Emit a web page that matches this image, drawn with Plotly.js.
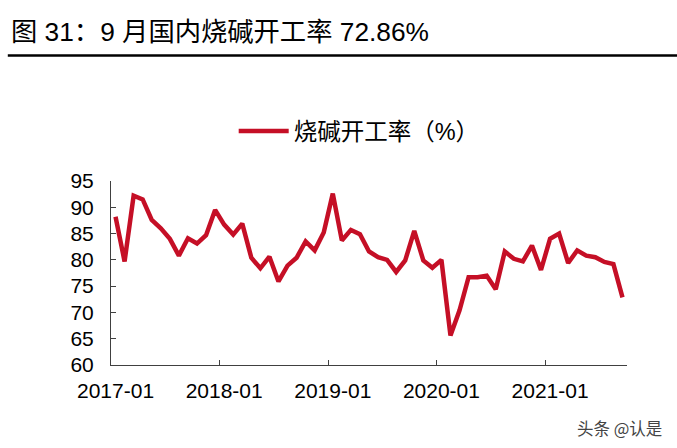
<!DOCTYPE html>
<html>
<head>
<meta charset="utf-8">
<script src="https://cdn.plot.ly/plotly-3.0.1.min.js"></script>
<style>html,body{margin:0;padding:0;background:#fff;}#chart{width:677px;height:448px;}</style>
</head>
<body>
<div id="chart"></div>
<script>
// months 2017-01 .. 2021-09
const months = [];
for (let y = 2017; y <= 2021; y++) {
  for (let m = 1; m <= 12; m++) {
    if (y === 2021 && m > 9) break;
    months.push(y + '-' + (m < 10 ? '0' + m : '' + m));
  }
}
const rate = [
  88.2, 79.7, 92.2, 91.5, 87.6, 86.0, 84.0, 80.8, 84.1, 83.1, 84.7, 89.5,
  86.7, 84.8, 86.9, 80.4, 78.4, 80.6, 75.9, 78.9, 80.4, 83.5, 81.8, 85.2,
  92.6, 83.7, 85.7, 84.9, 81.6, 80.5, 80.0, 77.7, 79.9, 85.5, 79.9, 78.5,
  80.0, 65.6, 70.4, 76.7, 76.7, 77.0, 74.4, 81.6, 80.2, 79.7, 82.7, 78.1,
  84.0, 85.0, 79.4, 81.8, 80.8, 80.5, 79.6, 79.2, 72.86
];
const tickLabels = ['2017-01', '2018-01', '2019-01', '2020-01', '2021-01'];
const seriesName = '烧碱开工率（%）';
const titleText = '图 31：9 月国内烧碱开工率 72.86%';
const watermark = '头条 @认是';

const idx = months.map((_, i) => i);
const labelPos = tickLabels.map(t => months.indexOf(t));
const boundaryPos = labelPos.map(p => p - 0.5);

const fontFam = 'Liberation Sans, Arial, Noto Sans CJK SC, sans-serif';

const traces = [
  {
    x: idx, y: rate, type: 'scatter', mode: 'lines', name: seriesName,
    line: {color: '#C50F26', width: 4.5},
    xaxis: 'x', yaxis: 'y'
  },
  {
    x: [boundaryPos[0]], y: [null], type: 'scatter', mode: 'lines',
    showlegend: false, hoverinfo: 'skip', xaxis: 'x2', yaxis: 'y'
  }
];

const layout = {
  width: 677, height: 448,
  margin: {l: 110.5, r: 50, t: 181, b: 83},
  paper_bgcolor: '#fff', plot_bgcolor: '#fff',
  font: {family: fontFam, color: '#000'},
  title: {
    text: titleText,
    font: {family: fontFam, size: 26.3, color: '#000'},
    xref: 'container', yref: 'container',
    x: 11 / 677, xanchor: 'left',
    y: 1 - 32 / 448, yanchor: 'middle'
  },
  showlegend: true,
  legend: {
    orientation: 'h', x: 0.481, xanchor: 'center', y: 1.27, yanchor: 'middle',
    font: {family: fontFam, size: 23.5, color: '#000'},
    itemwidth: 50
  },
  xaxis: {
    range: [-0.5, months.length - 0.5],
    tickmode: 'array', tickvals: labelPos, ticktext: tickLabels,
    ticks: '', showgrid: false, zeroline: false,
    showline: true, linecolor: '#404040', linewidth: 1,
    tickfont: {family: fontFam, size: 21, color: '#000'},
    ticklabelstandoff: 7,
    fixedrange: true
  },
  xaxis2: {
    overlaying: 'x', range: [-0.5, months.length - 0.5],
    tickmode: 'array', tickvals: boundaryPos, ticktext: boundaryPos.map(() => ''),
    ticks: 'inside', ticklen: 5, tickcolor: '#404040', tickwidth: 1,
    showgrid: false, zeroline: false, showline: false, side: 'bottom',
    showticklabels: false, fixedrange: true
  },
  yaxis: {
    range: [60, 95], tickmode: 'array', tickvals: [60, 65, 70, 75, 80, 85, 90, 95],
    ticks: 'inside', ticklen: 5, tickcolor: '#404040', tickwidth: 1,
    showgrid: false, zeroline: false,
    showline: true, linecolor: '#404040', linewidth: 1,
    tickfont: {family: fontFam, size: 21, color: '#000'},
    ticklabelstandoff: 12,
    fixedrange: true
  },
  shapes: [
    {type: 'line', xref: 'paper', yref: 'paper',
     x0: -0.2, x1: 1.2, y0: (365 - 55.5) / 184, y1: (365 - 55.5) / 184,
     line: {color: '#000', width: 2.5}}
  ],
  annotations: [
    {text: watermark, xref: 'paper', yref: 'paper', showarrow: false,
     x: (664 - 110.5) / 516.5, xanchor: 'right', y: (365 - 428) / 184, yanchor: 'middle',
     font: {family: 'Noto Sans CJK SC, sans-serif', size: 16.5, color: '#444'}}
  ]
};

Plotly.newPlot('chart', traces, layout, {staticPlot: true, displayModeBar: false});
</script>
</body>
</html>
